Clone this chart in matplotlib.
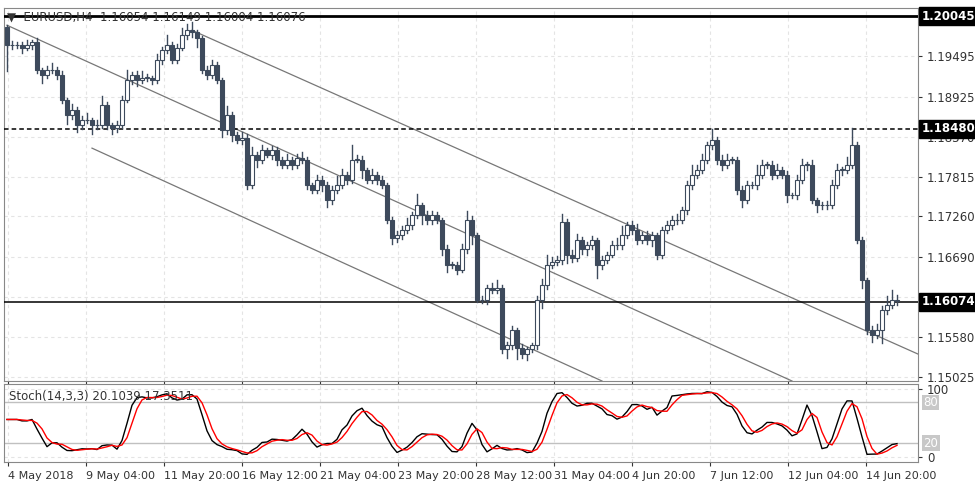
import numpy as np
import pandas as pd
import matplotlib.pyplot as plt
from matplotlib.patches import Rectangle

# EURUSD H4 closes, in pips (price * 10000)
closes = [11964, 11964, 11964, 11960, 11964, 11968, 11930, 11923, 11930, 11930,
          11923, 11888, 11867, 11874, 11853, 11860, 11860, 11853, 11853, 11881,
          11853, 11849, 11853, 11888, 11916, 11923, 11916, 11919, 11919, 11916,
          11944, 11957, 11964, 11944, 11960, 11978, 11985, 11982, 11974, 11930,
          11923, 11937, 11916, 11846, 11867, 11839, 11832, 11835, 11770, 11812,
          11805, 11818, 11812, 11818, 11805, 11798, 11805, 11798, 11807, 11805,
          11770, 11763, 11777, 11770, 11749, 11763, 11770, 11784, 11777, 11805,
          11805, 11791, 11777, 11784, 11777, 11770, 11721, 11696, 11700, 11707,
          11714, 11728, 11742, 11728, 11721, 11728, 11721, 11680, 11659, 11659,
          11652, 11680, 11721, 11700, 11610, 11610, 11627, 11624, 11627, 11541,
          11547, 11568, 11543, 11534, 11541, 11547, 11610, 11631, 11659, 11663,
          11666, 11718, 11673, 11668, 11693, 11680, 11686, 11693, 11659, 11666,
          11673, 11686, 11686, 11700, 11714, 11707, 11693, 11700, 11693, 11700,
          11673, 11707, 11714, 11721, 11721, 11735, 11770, 11784, 11791, 11805,
          11825, 11832, 11805, 11798, 11805, 11805, 11763, 11749, 11770, 11770,
          11784, 11798, 11798, 11784, 11791, 11784, 11756, 11756, 11777, 11798,
          11798, 11749, 11742, 11742, 11742, 11770, 11791, 11791, 11798, 11825,
          11693, 11638, 11568, 11561, 11568, 11596, 11603, 11610, 11608]
first_open = 11990
hi_wick = [3, 6, 4, 5, 8, 4, 6, 3, 5, 9,
           4, 5, 3, 8, 4, 6, 10, 3, 7, 12,
           4, 3, 6, 5, 14, 4, 6, 10, 5, 3,
           8, 5, 15, 4, 6, 10, 9, 12, 4, 3,
           5, 6, 4, 3, 12, 4, 5, 8, 6, 10,
           4, 7, 3, 6, 5, 4, 8, 3, 6, 9,
           4, 3, 7, 5, 4, 6, 12, 8, 4, 20,
           6, 5, 3, 8, 4, 5, 3, 4, 6, 5,
           10, 4, 15, 3, 6, 5, 4, 3, 6, 4,
           3, 8, 12, 6, 3, 5, 4, 6, 10, 3,
           4, 5, 3, 6, 4, 3, 5, 8, 14, 6,
           5, 12, 4, 6, 9, 5, 4, 6, 3, 5,
           4, 6, 10, 12, 4, 5, 8, 4, 6, 5,
           3, 4, 6, 5, 8, 4, 5, 14, 6, 8,
           4, 15, 5, 6, 8, 4, 3, 6, 5, 4,
           14, 6, 4, 5, 8, 4, 5, 3, 6, 8,
           4, 6, 3, 4, 5, 6, 8, 4, 10, 24,
           4, 5, 3, 6, 8, 5, 12, 14, 6]
lo_wick = [35, 5, 4, 6, 3, 5, 4, 12, 5, 4,
           6, 4, 12, 5, 10, 6, 4, 12, 5, 4,
           6, 8, 5, 4, 3, 6, 8, 4, 5, 6,
           4, 6, 3, 5, 4, 3, 5, 6, 12, 5,
           6, 4, 5, 10, 6, 8, 4, 5, 6, 4,
           10, 5, 4, 6, 8, 5, 4, 6, 5, 4,
           6, 5, 4, 8, 10, 6, 5, 4, 6, 4,
           3, 12, 5, 4, 6, 5, 4, 8, 5, 6,
           4, 5, 4, 12, 5, 6, 4, 8, 10, 5,
           6, 4, 5, 12, 3, 4, 6, 5, 4, 5,
           12, 6, 15, 5, 8, 4, 5, 12, 6, 5,
           4, 6, 12, 5, 4, 6, 8, 5, 18, 6,
           5, 4, 6, 5, 4, 6, 5, 4, 6, 8,
           6, 5, 4, 6, 5, 4, 5, 6, 4, 5,
           4, 5, 6, 8, 5, 4, 6, 10, 5, 4,
           6, 4, 5, 6, 4, 5, 10, 4, 6, 5,
           8, 4, 10, 5, 6, 4, 5, 8, 4, 5,
           4, 12, 6, 10, 4, 18, 6, 4, 5]

tick_labels = ['4 May 2018', '9 May 04:00', '11 May 20:00', '16 May 12:00', '21 May 04:00',
               '23 May 20:00', '28 May 12:00', '31 May 04:00', '4 Jun 20:00', '7 Jun 12:00',
               '12 Jun 04:00', '14 Jun 20:00']
tick_bars = [0.2, 15.8, 31.4, 47.0, 62.6, 78.2, 93.8, 109.4, 125.0, 140.6, 156.2, 171.8]
price_ticks = [1.20045, 1.19495, 1.18925, 1.18370, 1.17815, 1.17260, 1.16690, 1.16135, 1.15580, 1.15025]
h_levels = [1.20045, 1.18480, 1.16074]
# channel lines: (bar, price) pairs
channels = [((37, 1.19850), (183, 1.15320)),
            ((0, 1.19920), (157, 1.14970)),
            ((17, 1.18210), (119, 1.14970))]

c = np.array(closes) / 10000.0
o = np.concatenate([[first_open / 10000.0], c[:-1]])
h = np.maximum(o, c) + np.array(hi_wick) / 10000.0
l = np.minimum(o, c) - np.array(lo_wick) / 10000.0
n = len(c)

df = pd.DataFrame({'h': h, 'l': l, 'c': c})
ll = df['l'].rolling(14, min_periods=1).min()
hh = df['h'].rolling(14, min_periods=1).max()
k_fast = 100 * (df['c'] - ll) / (hh - ll)
k_line = k_fast.rolling(3, min_periods=1).mean()
d_line = k_line.rolling(3, min_periods=1).mean()

dark = '#3d4a5c'
fig = plt.figure(figsize=(9.75, 4.88), dpi=100)
ax = fig.add_axes([4 / 975, 1 - 381 / 488, 914 / 975, 373 / 488])
ax2 = fig.add_axes([4 / 975, 1 - 462 / 488, 914 / 975, 78 / 488])

for a in (ax, ax2):
    a.set_xlim(-0.6, 182.2)
    a.set_xticks(tick_bars)
    a.grid(True, color='#e4e4e4', linestyle=(0, (3, 3)), linewidth=0.8)
    a.set_axisbelow(True)
    a.yaxis.tick_right()
    for s in a.spines.values():
        s.set_color('#888888')
    a.tick_params(length=3, colors='#333333', labelsize=8.5)

ax.set_ylim(1.1497, 1.2016)
ax.set_yticks(price_ticks)
ax.set_yticklabels([f'{p:.5f}' for p in price_ticks])
ax.set_xticklabels([])

for (b0, p0), (b1, p1) in channels:
    ax.plot([b0, b1], [p0, p1], color='#777777', linewidth=0.9, zorder=2)

ax.axhline(h_levels[0], color='black', linewidth=2, zorder=3)
ax.axhline(h_levels[1], color='black', linewidth=1.1, linestyle=(0, (3, 2)), zorder=3)
ax.axhline(h_levels[2], color='black', linewidth=1.1, zorder=3)
for lv in h_levels:
    ax.text(1.004, lv, f'{lv:.5f}', transform=ax.get_yaxis_transform(), va='center', ha='left',
            color='white', fontsize=8.5, fontweight='bold',
            bbox=dict(boxstyle='square,pad=0.2', fc='black', ec='black'), zorder=5)

for i in range(n):
    up = c[i] >= o[i]
    ax.plot([i, i], [l[i], h[i]], color=dark, linewidth=1, zorder=4)
    bottom = min(o[i], c[i])
    height = max(abs(c[i] - o[i]), 0.00004)
    ax.add_patch(Rectangle((i - 0.35, bottom), 0.7, height, facecolor='white' if up else dark,
                           edgecolor=dark, linewidth=0.8, zorder=5))

ax.text(0.003, 0.992, '\u25bc  EURUSD,H4  1.16054 1.16149 1.16004 1.16076', transform=ax.transAxes,
        va='top', ha='left', fontsize=8.5, color='#333333')

ax2.set_ylim(-8, 107)
ax2.set_yticks([100, 0])
ax2.set_yticklabels(['100', '0'])
ax2.axhline(80, color='#c0c0c0', linewidth=1)
ax2.axhline(20, color='#c0c0c0', linewidth=1)
for lv in (80, 20):
    ax2.text(1.006, lv, str(lv), transform=ax2.get_yaxis_transform(), va='center', ha='left',
             color='white', fontsize=8.5, bbox=dict(boxstyle='square,pad=0.1', fc='#c8c8c8', ec='none'))
ax2.plot(range(n), k_line, color='black', linewidth=1)
ax2.plot(range(n), d_line, color='red', linewidth=1)
ax2.set_xticklabels(tick_labels, ha='left', fontsize=8)
ax2.text(0.005, 0.92, 'Stoch(14,3,3) 20.1039 17.3511', transform=ax2.transAxes,
         va='top', ha='left', fontsize=8.5, color='#333333')

fig.savefig('out.png', dpi=100)
